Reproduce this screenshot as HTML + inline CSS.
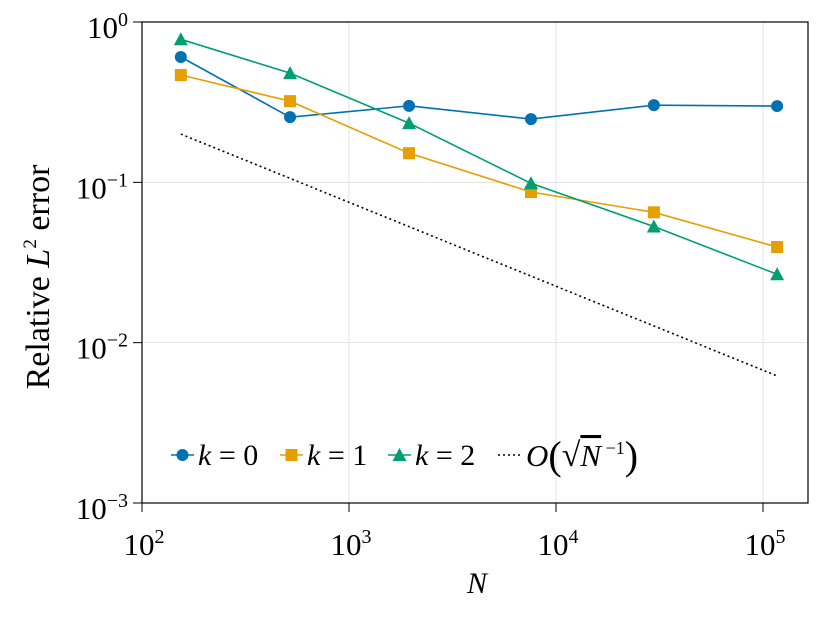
<!DOCTYPE html>
<html><head><meta charset="utf-8"><style>
body{margin:0;background:#fff;}
svg text{font-family:"Liberation Serif","DejaVu Serif",serif;fill:#000;}
</style></head><body>
<svg width="830" height="623" xmlns="http://www.w3.org/2000/svg">
<g id="grid"></g>
<g id="ticks"></g>
<g id="series"></g>
<rect x="142" y="22" width="666" height="481" fill="none" stroke="#000" stroke-width="1.2"/>
<text x="477" y="593" font-size="30" font-style="italic" text-anchor="middle">N</text>
<text transform="translate(49,277) rotate(-90)" font-size="34" text-anchor="middle">Relative <tspan font-style="italic">L</tspan><tspan font-size="19" dy="-13">2</tspan><tspan dy="13"> error</tspan></text>
<g id="legend"></g>
</svg>
<script>
const N = [154, 519, 1950, 7570, 29700, 117000];
const k0 = [0.605, 0.255, 0.30, 0.248, 0.303, 0.299];
const k1 = [0.467, 0.321, 0.152, 0.087, 0.065, 0.0395];
const k2 = [0.78, 0.48, 0.234, 0.0986, 0.053, 0.0267];
const refN = [154, 117000];
const refVals = [0.2, 0.0062];
const xTicks = [2, 3, 4, 5];
const yTicks = [0, -1, -2, -3];
const seriesLabels = ["0", "1", "2"];

const NS = "http://www.w3.org/2000/svg";
const X0 = 142, X1 = 808, Y0 = 22, Y1 = 503;
function xs(v){ return 142 + (Math.log10(v) - 2) * 207; }
function ys(v){ return 22 - Math.log10(v) * 160.33; }
function mk(tag, attrs, parent){ const e = document.createElementNS(NS, tag); for (const k in attrs) e.setAttribute(k, attrs[k]); parent.appendChild(e); return e; }

const grid = document.getElementById('grid'), ticks = document.getElementById('ticks');
xTicks.forEach(p => {
  const x = xs(Math.pow(10, p));
  if (x > X0 + 1) { const l = mk('line', {x1:x, x2:x, y1:Y0, y2:Y1, stroke:'#e3e3e3', 'stroke-width':1}, grid);
    
     }
  const t = mk('line', {x1:x, x2:x, y1:Y1, y2:Y1+9, stroke:'#000', 'stroke-width':1}, ticks);
  
  
  const tx = mk('text', {x:x+2, y:555, 'font-size':31, 'text-anchor':'middle'}, ticks);
  tx.innerHTML = '10<tspan font-size="20" dy="-12">' + p + '</tspan>';
  
  
});
yTicks.forEach(p => {
  const y = ys(Math.pow(10, p));
  if (y > Y0 + 1 && y < Y1 - 1) { const l = mk('line', {x1:X0, x2:X1, y1:y, y2:y, stroke:'#e3e3e3', 'stroke-width':1}, grid);
    
     }
  const t = mk('line', {x1:X0-9, x2:X0, y1:y, y2:y, stroke:'#000', 'stroke-width':1}, ticks);
  
  
  const tx = mk('text', {x:128, y:y+16, 'font-size':31, 'text-anchor':'end'}, ticks);
  tx.innerHTML = '10<tspan font-size="20" dy="-12">' + (p < 0 ? '\u2212' + (-p) : p) + '</tspan>';
  
  
});

const colors = ['#0072b2', '#e69f00', '#009e73'];
function marker(shape, x, y, c, parent){
  let m;
  if (shape === 0) m = mk('circle', {cx:x, cy:y, r:6, fill:c}, parent);
  else if (shape === 1) m = mk('rect', {x:x-6, y:y-6, width:12, height:12, fill:c}, parent);
  else m = mk('polygon', {points:(x-7)+','+(y+6)+' '+(x+7)+','+(y+6)+' '+x+','+(y-7), fill:c}, parent);
  return m;
}
const sg = document.getElementById('series');
const ref = mk('polyline', {points: refN.map((n,i)=>xs(n)+','+ys(refVals[i])).join(' '), fill:'none', stroke:'#000', 'stroke-width':1.6, 'stroke-dasharray':'2 3'}, sg);


[k0, k1, k2].forEach((vals, si) => {
  const g = mk('g', {}, sg);
  
  
  const pl = mk('polyline', {points: N.map((n,i)=>xs(n)+','+ys(vals[i])).join(' '), fill:'none', stroke:colors[si], 'stroke-width':1.6}, g);
  
  
  N.forEach((n, i) => {
    const m = marker(si, xs(n), ys(vals[i]), colors[si], g);
    
    
  });
});

const lg = document.getElementById('legend');
const itemX = [171, 280, 388];
itemX.forEach((x, i) => {
  const g = mk('g', {}, lg);
  
  
  mk('line', {x1:x, x2:x+23, y1:455, y2:455, stroke:colors[i], 'stroke-width':1.6}, g);
  marker(i, x+11.5, 455, colors[i], g);
  const t = mk('text', {x:x+27, y:465, 'font-size':30}, g);
  t.innerHTML = '<tspan font-style="italic">k</tspan> = ' + seriesLabels[i];
});
const rg = mk('g', {}, lg);


mk('line', {x1:498, x2:522, y1:455, y2:455, stroke:'#000', 'stroke-width':1.6, 'stroke-dasharray':'2 3'}, rg);
const rt = mk('text', {x:526, y:466, 'font-size':31}, rg);
rt.innerHTML = '<tspan font-style="italic">O</tspan><tspan font-size="40" dy="3">(</tspan><tspan dy="-3" font-size="34">\u221A</tspan><tspan font-style="italic" text-decoration="overline">N</tspan><tspan font-size="18" dy="-12"> \u22121</tspan><tspan font-size="40" dy="15">)</tspan>';
</script>
</body></html>
